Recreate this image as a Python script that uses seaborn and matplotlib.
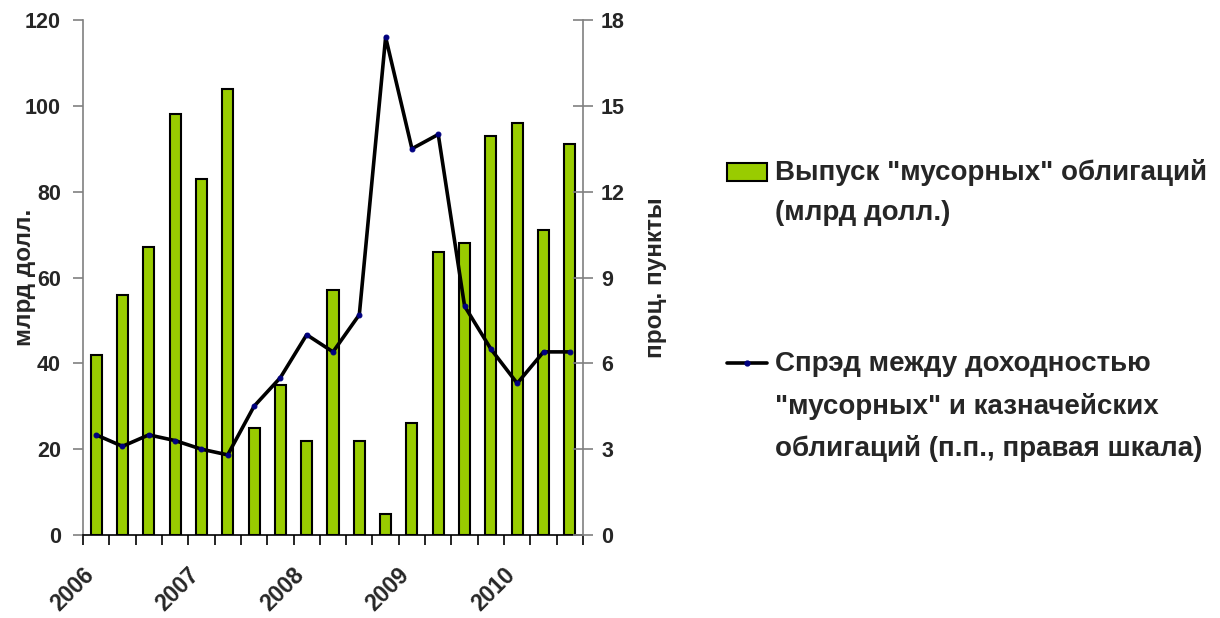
import numpy as np
import pandas as pd
import matplotlib
matplotlib.use("Agg")
import matplotlib.pyplot as plt
import seaborn as sns
from matplotlib.patches import Patch, Rectangle
from matplotlib.lines import Line2D
from matplotlib.legend_handler import HandlerPatch
from matplotlib import font_manager
from matplotlib.transforms import ScaledTranslation

# ---- data ----
quarters = ["2006Q1", "2006Q2", "2006Q3", "2006Q4",
            "2007Q1", "2007Q2", "2007Q3", "2007Q4",
            "2008Q1", "2008Q2", "2008Q3", "2008Q4",
            "2009Q1", "2009Q2", "2009Q3", "2009Q4",
            "2010Q1", "2010Q2", "2010Q3"]
issuance = [42, 56, 67, 98, 83, 104, 25, 35, 22, 57, 22, 5, 26, 66, 68, 93, 96, 71, 91]
spread = [3.5, 3.1, 3.5, 3.3, 3.0, 2.8, 4.5, 5.5, 7.0, 6.4, 7.7, 17.4, 13.5, 14.0, 8.0, 6.5, 5.3, 6.4, 6.4]
year_labels = ["2006", "2007", "2008", "2009", "2010"]
left_ticks = [0, 20, 40, 60, 80, 100, 120]
right_ticks = [0, 3, 6, 9, 12, 15, 18]

bar_label = 'Выпуск "мусорных" облигаций\n(млрд долл.)'
line_label = 'Спрэд между доходностью\n"мусорных" и казначейских\nоблигаций (п.п., правая шкала)'

sns.set_theme(style="white")
names = {f.name for f in font_manager.fontManager.ttflist}
narrow = "Liberation Sans Narrow" in names
if narrow:
    plt.rcParams["font.family"] = ["Liberation Sans Narrow", "Liberation Sans", "DejaVu Sans"]
    TICK_FS, XT_FS, LAB_FS, LEG_FS, LEG_LS = 17.5, 18, 19, 24, 1.5
else:
    plt.rcParams["font.family"] = ["Liberation Sans", "DejaVu Sans"]
    TICK_FS, XT_FS, LAB_FS, LEG_FS, LEG_LS = 15.5, 16.5, 17.5, 20, 1.72
plt.rcParams["font.weight"] = "bold"

df = pd.DataFrame({"quarter": quarters, "issuance": issuance})
pos = np.arange(len(quarters))

fig = plt.figure(figsize=(12.2, 6.18), dpi=100)
ax = fig.add_axes([83 / 1220, 1 - 535 / 618, 500 / 1220, 515 / 618])

GREEN = "#99CC00"
sns.barplot(data=df, x="quarter", y="issuance", color=GREEN, saturation=1,
            edgecolor="black", linewidth=1.5, width=0.42, ax=ax)

ax2 = ax.twinx()
sns.lineplot(x=pos, y=spread, ax=ax2, color="black", linewidth=2.6,
             marker="o", markersize=3.5, markerfacecolor="#000080",
             markeredgecolor="#000080")

ax.set_xlim(-0.5, len(quarters) - 0.5)
ax.set_ylim(0, 120)
ax2.set_ylim(0, 18)

# x axis ticks: boundaries as minor ticks, year labels as major ticks
ax.set_xticks(np.arange(-0.5, len(quarters), 1), minor=True)
ax.set_xticks(pos[::4])
ax.set_xticklabels(year_labels, rotation=45, ha="right", va="center",
                   rotation_mode="anchor", fontsize=XT_FS, fontweight="bold")
ax.tick_params(axis="x", which="major", length=0, pad=26)
ax.tick_params(axis="x", which="minor", length=7, width=1.2, color="black",
               direction="out", bottom=True)
for lab in ax.get_xticklabels():
    lab.set_transform(lab.get_transform() + ScaledTranslation(-0.06, 0, fig.dpi_scale_trans))

ax.set_yticks(left_ticks)
ax.set_yticklabels([str(t) for t in left_ticks], fontsize=TICK_FS, fontweight="bold")
ax.tick_params(axis="y", length=7, width=1.2, color="#808080", direction="out",
               left=True, pad=9)

ax2.set_yticks(right_ticks)
ax2.set_yticklabels([str(t) for t in right_ticks], fontsize=TICK_FS, fontweight="bold")
ax2.tick_params(axis="y", length=14, width=1.2, color="#808080", direction="inout",
                right=True, pad=6)

ax.set_xlabel("")
ax.set_ylabel("млрд долл.", fontsize=LAB_FS, fontweight="bold")
ax.yaxis.set_label_coords(-0.094, 0.5)
ax2.set_ylabel("проц. пункты", fontsize=LAB_FS, fontweight="bold")
ax2.yaxis.set_label_coords(1.122, 0.5)

for s in ["top", "right"]:
    ax.spines[s].set_visible(False)
for s in ["top", "left", "bottom"]:
    ax2.spines[s].set_visible(False)
ax.spines["left"].set_color("#808080")
ax.spines["left"].set_linewidth(1.2)
ax.spines["bottom"].set_color("black")
ax.spines["bottom"].set_linewidth(1.2)
ax2.spines["right"].set_color("#808080")
ax2.spines["right"].set_linewidth(1.2)
ax.grid(False)
ax2.grid(False)


def small_rect(legend, orig_handle, xdescent, ydescent, width, height, fontsize):
    h = 18 / 100 * 72  # points
    return Rectangle((-xdescent, -ydescent + (height - h) / 2), width, h)


handles = [Patch(facecolor=GREEN, edgecolor="black", linewidth=1.5),
           Line2D([], [], color="black", linewidth=2.6, marker="o", markersize=3.5,
                  markerfacecolor="#000080", markeredgecolor="#000080")]
leg = fig.legend(handles, [bar_label, line_label], loc="upper left",
                 bbox_to_anchor=(702 / 1220, 1 - 134 / 618), frameon=False,
                 prop={"size": LEG_FS, "weight": "bold"}, labelspacing=4.5,
                 handlelength=40 / 100 * 72 / LEG_FS, handleheight=1.1, handletextpad=0.3,
                 handler_map={Patch: HandlerPatch(patch_func=small_rect)})
for t in leg.get_texts():
    t.set_linespacing(LEG_LS)
for col in leg._legend_handle_box.get_children():
    for row in col.get_children():
        row.align = "top"

fig.savefig("out.png", dpi=100)
